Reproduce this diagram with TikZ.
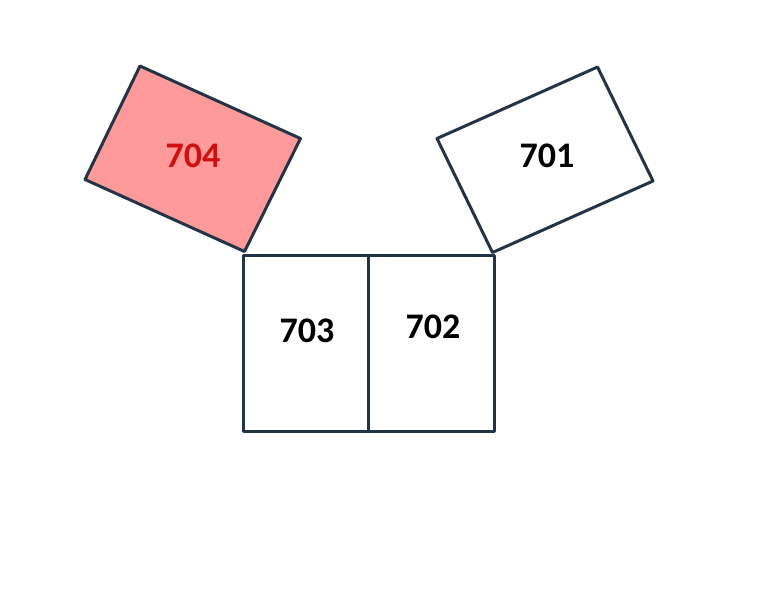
\documentclass[tikz,border=0pt]{standalone}
\usepackage{fontspec}
\setmainfont{Carlito}
\definecolor{edge}{HTML}{243447}
\definecolor{pinkfill}{HTML}{FF9A9A}
\definecolor{redtext}{HTML}{D01010}
\begin{document}
\begin{tikzpicture}[x=1pt,y=-1pt,
  room/.style={draw=edge,line width=3pt,line join=round},
  lbl/.style={font=\fontsize{36}{36}\selectfont\bfseries,text=black}]
\useasboundingbox (0,0) rectangle (774,600);
% 704
\draw[room,fill=pinkfill] (140,66) -- (300.5,138.5) -- (244.5,251.5) -- (85,179.5) -- cycle;
% 701
\draw[room,fill=white] (437,138.5) -- (597.5,67) -- (653,181) -- (492.5,252.5) -- cycle;
% 703 and 702
\draw[room] (243.5,255) rectangle (368,431);
\draw[room] (368,255) rectangle (494,431);
\node[lbl,text=redtext] (n704) at (193,156) {704};
\node[lbl] (n701) at (547,156) {701};
\node[lbl] (n703) at (307,331) {703};
\node[lbl] (n702) at (433,327) {702};
\end{tikzpicture}
\end{document}
